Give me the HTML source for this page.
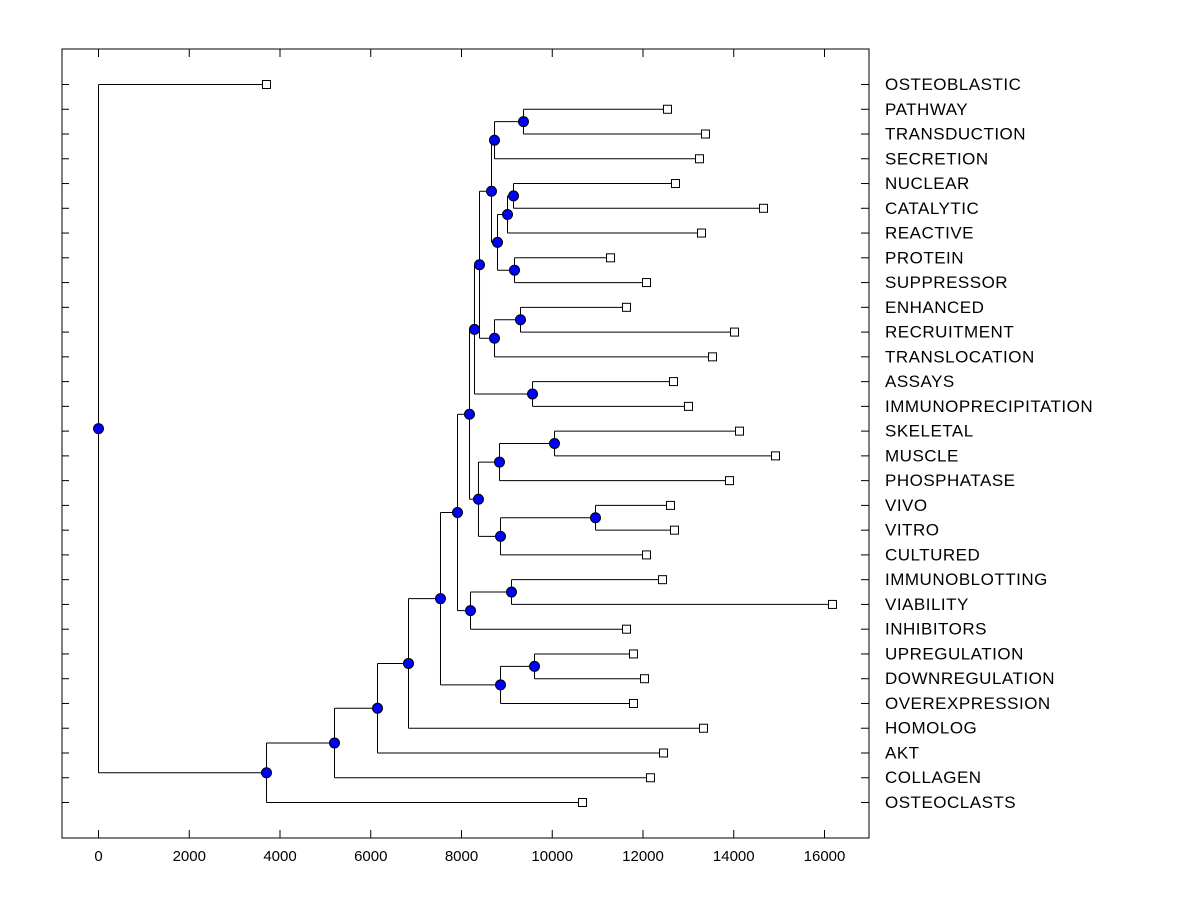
<!DOCTYPE html>
<html><head><meta charset="utf-8">
<style>body{margin:0;background:#fff}svg{display:block;font-family:"Liberation Sans",Arial,sans-serif}</style>
</head><body>
<svg id="chart" width="1200" height="900" xmlns="http://www.w3.org/2000/svg"></svg>
<script>
const leafLabels = ["OSTEOBLASTIC","PATHWAY","TRANSDUCTION","SECRETION","NUCLEAR","CATALYTIC","REACTIVE","PROTEIN","SUPPRESSOR","ENHANCED","RECRUITMENT","TRANSLOCATION","ASSAYS","IMMUNOPRECIPITATION","SKELETAL","MUSCLE","PHOSPHATASE","VIVO","VITRO","CULTURED","IMMUNOBLOTTING","VIABILITY","INHIBITORS","UPREGULATION","DOWNREGULATION","OVEREXPRESSION","HOMOLOG","AKT","COLLAGEN","OSTEOCLASTS"];
const leafValues = [3702,12540,13377,13245,12716,14656,13289,11284,12077,11636,14017,13532,12672,13003,14127,14920,13906,12606,12694,12077,12430,16176,11636,11790,12033,11790,13333,12452,12165,10667];
const nodeNames = ["root","A","B","C","D","E","G","H","F","J","K","I","M","N","P","O","Q","L","S","R","U","V","T","W","Y","X","Z","AB","AA"];
const nodeHeights = [0,3702,5201,6149,6832,7537,8860,9609,7912,8198,9102,8176,8374,8837,10050,8860,10953,8286,9565,8397,8727,9300,8661,8727,9366,8793,9014,9146,9168];
const nodeChildA = [0,"B","C","D","E","F","H",23,"I","K",20,"L","N","P",14,"Q",17,"R",12,"T","V",9,"W","Y",1,"Z","AB",4,7];
const nodeChildB = ["A",29,28,27,26,"G",25,24,"J",22,21,"M","O",16,15,19,18,"S",13,"U",11,10,"X",3,2,"AA",6,5,8];
const xTicks = [0,2000,4000,6000,8000,10000,12000,14000,16000];

const svg = document.getElementById('chart');
const NS = "http://www.w3.org/2000/svg";
const L=62,R=869,T=49,B=838;
const xs = v => 98 + v*0.045375;
const ys = i => 84 + i*(802-84)/29;
function mk(tag, attrs, parent){const e=document.createElementNS(NS,tag);for(const k in attrs)e.setAttribute(k,attrs[k]);(parent||svg).appendChild(e);return e;}

const frame = mk('rect',{x:L,y:T,width:R-L,height:B-T,fill:'none',stroke:'#000','stroke-width':1});



xTicks.forEach(v=>{
  const x=xs(v)+0.5;
  const t1=mk('line',{x1:x,y1:B,x2:x,y2:B-8,stroke:'#000'});
  
  
  const t2=mk('line',{x1:x,y1:T,x2:x,y2:T+8,stroke:'#000'});
  
  
  const lb=mk('text',{x:x,y:861,'font-size':15,'text-anchor':'middle'});
  lb.textContent=v;
  
  
});

leafLabels.forEach((n,i)=>{
  const y=ys(i)+0.5;
  const a=mk('line',{x1:L,y1:y,x2:L+7,y2:y,stroke:'#000'});
  
  
  const b=mk('line',{x1:R-8,y1:y,x2:R,y2:y,stroke:'#000'});
  
  
  const lb=mk('text',{x:885,y:ys(i)+6,'font-size':17,'letter-spacing':'0.5'});
  lb.textContent=n;
  
  
});

const pos={};
function resolve(c){
  if(typeof c==='number') return {x:xs(leafValues[c]),y:ys(c),leaf:c};
  const k=nodeNames.indexOf(c);
  if(pos[c]) return pos[c];
  const a=resolve(nodeChildA[k]), b=resolve(nodeChildB[k]);
  const p={x:xs(nodeHeights[k]),y:(a.y+b.y)/2,a:a,b:b};
  pos[c]=p; return p;
}
const rootP=resolve("root");
const dots=[],squares=[];
function draw(p){
  if(p.leaf!==undefined){squares.push(p);return;}
  [p.a,p.b].forEach(c=>{
    const l=mk('line',{x1:p.x+0.5,y1:c.y+0.5,x2:c.x,y2:c.y+0.5,stroke:'#000'});
    
    
    draw(c);
  });
  const v=mk('line',{x1:p.x+0.5,y1:p.a.y+0.5,x2:p.x+0.5,y2:p.b.y+0.5,stroke:'#000'});
  
  
  dots.push(p);
}
draw(rootP);
dots.forEach(p=>{
  const c=mk('circle',{cx:p.x+0.5,cy:p.y+0.5,r:5,fill:'#0000ff',stroke:'#000','stroke-width':1});
  
  
});
squares.forEach(p=>{
  const s=mk('rect',{x:p.x-3.5,y:p.y-3.5,width:8,height:8,fill:'#fff',stroke:'#000','stroke-width':1});
  
  
});
</script>
</body></html>
